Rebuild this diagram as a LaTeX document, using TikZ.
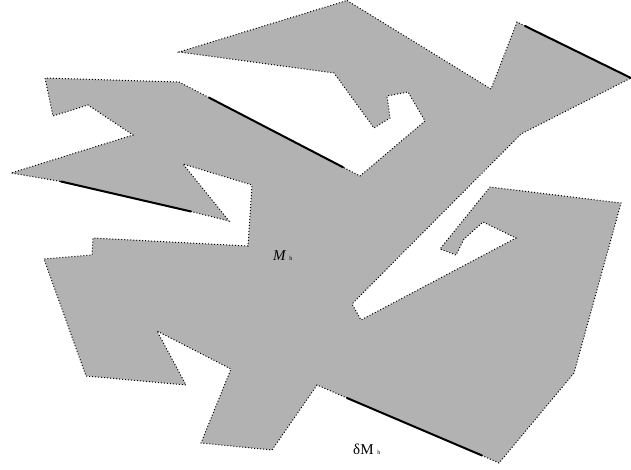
\documentclass[tikz,border=0pt]{standalone}
\usepackage{fontspec}
\setmainfont{Liberation Serif}
\usepackage{xcolor}

\begin{document}
\begin{tikzpicture}[x=1pt, y=-1pt,
    region/.style={fill=black!30, draw=black, line width=1pt, dash pattern=on 1pt off 2pt},
    edgepart/.style={line width=2pt, line cap=round}]
    \useasboundingbox (0,0) rectangle (631,470);

    % Region
    \path[region] (347,0.5) -- (491,89) -- (517,22) -- (525,26) -- (631,78)
        -- (521,134) -- (352,304) -- (361,320) -- (516,238) -- (483,222)
        -- (464,239) -- (456,255) -- (440,249) -- (490,187) -- (621,203)
        -- (574,373) -- (499,463) -- (482,455.5) -- (347,398) -- (317,385)
        -- (272,450) -- (201,443) -- (231,369) -- (157,331) -- (186,385)
        -- (86,376) -- (44,259) -- (92,255) -- (93,238) -- (248,246)
        -- (252,185) -- (183,164) -- (229,221) -- (191,211.5) -- (61,181.5)
        -- (11,173) -- (133,135) -- (88,105) -- (53,116) -- (45,78)
        -- (179,82) -- (209,97.6) -- (343,167.2) -- (360,176) -- (425,121)
        -- (408,92) -- (387,96) -- (390,118) -- (374,128) -- (334,73)
        -- (179,52) -- cycle;

    % Thick boundary pieces
    \draw[edgepart] (525,26) -- (631,78);
    \draw[edgepart] (209,97.6) -- (343,167.2);
    \draw[edgepart] (61,181.5) -- (191,211.5);
    \draw[edgepart] (347,398) -- (482,455.5);

    % Labels
    \node[anchor=base west, inner sep=0pt] (mh) at (273,260)
        {\fontsize{15}{17}\selectfont\itshape M\upshape\ \fontsize{6}{7}\selectfont h};
    \node[anchor=base west, inner sep=0pt] (dmh) at (353,454)
        {\fontsize{15}{17}\selectfont δM\ \fontsize{6}{7}\selectfont h};
\end{tikzpicture}
\end{document}
